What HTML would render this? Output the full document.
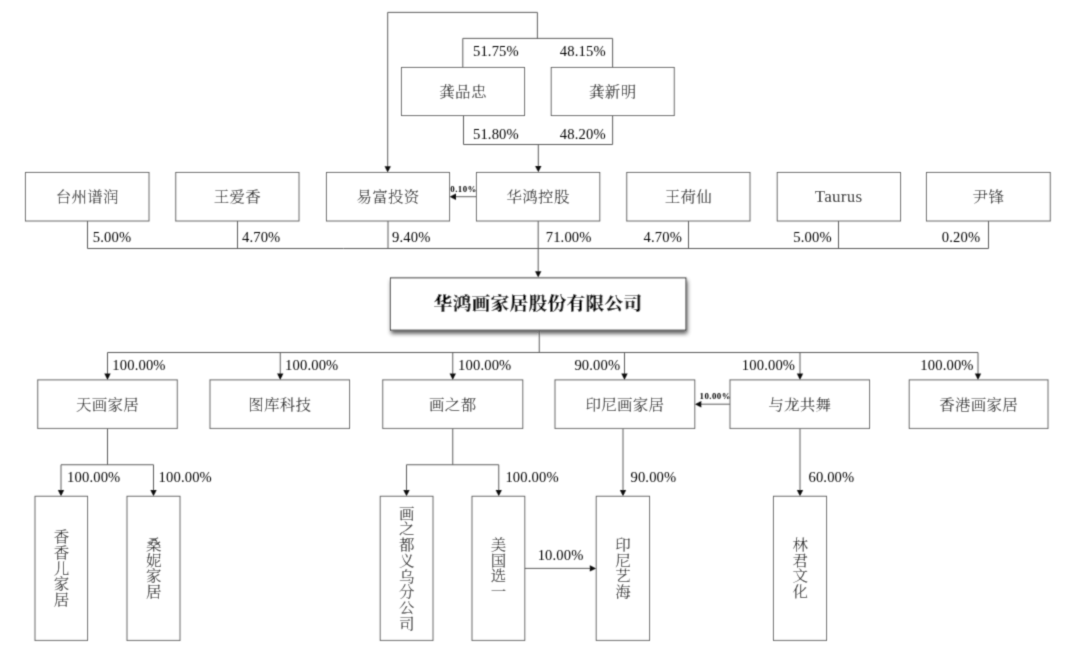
<!DOCTYPE html>
<html lang="zh-CN">
<head>
<meta charset="utf-8">
<title>股权结构图</title>
<style>
html,body{margin:0;padding:0;background:#fff;}
body{width:1076px;height:658px;overflow:hidden;}
svg{display:block;filter:grayscale(1);}
line,polyline,rect{fill:none;stroke:#5c5c5c;stroke-width:1;}
rect.bx{fill:#fff;}
rect.main{fill:#fff;stroke:#333;stroke-width:1;}
.ah{fill:#111;stroke:none;}
text{fill:#000;stroke:none;}
.cn{font-family:"Liberation Serif","Noto Serif CJK SC",serif;font-size:15.5px;font-weight:400;letter-spacing:0.3px;}
.vt{font-family:"Liberation Serif","Noto Serif CJK SC",serif;font-size:15.5px;writing-mode:vertical-rl;letter-spacing:1.6px;}
.lat{font-family:"Liberation Serif","Noto Serif CJK SC",serif;font-size:17px;letter-spacing:0.25px;}
.pc{font-family:"Liberation Serif","Noto Serif CJK SC",serif;font-size:14.6px;letter-spacing:0.15px;}
.sm{font-family:"Liberation Serif","Noto Serif CJK SC",serif;font-size:8.9px;font-weight:700;letter-spacing:0.42px;}
.ttl{font-family:"Liberation Serif","Noto Serif CJK SC",serif;font-size:18.8px;font-weight:900;letter-spacing:0.2px;fill:#000;}
</style>
</head>
<body>
<svg width="1076" height="658" viewBox="0 0 1076 658">
<defs>
<filter id="sh" x="-5%" y="-20%" width="110%" height="140%">
<feGaussianBlur in="SourceAlpha" stdDeviation="2.1"/>
<feOffset dx="0.6" dy="2.6" result="o"/>
<feComponentTransfer><feFuncA type="linear" slope="0.65"/></feComponentTransfer>
<feMerge><feMergeNode/><feMergeNode in="SourceGraphic"/></feMerge>
</filter>
<filter id="soft" x="0" y="0" width="100%" height="100%" filterUnits="userSpaceOnUse"><feConvolveMatrix order="3" kernelMatrix="0.0277 0.1110 0.0277 0.1110 0.4452 0.1110 0.0277 0.1110 0.0277" edgeMode="duplicate" preserveAlpha="false"/></filter>
</defs>
<rect x="0" y="0" width="1076" height="658" style="fill:#fff;stroke:none"/>
<g filter="url(#soft)">
<polyline points="537.4,38.4 537.4,12.4 387.7,12.4 387.7,167"/>
<polygon class="ah" points="387.7,172.5 384.55,166.2 390.85,166.2"/>
<polyline points="462.8,67.5 462.8,38.4 612.6,38.4 612.6,67.5"/>
<polyline points="463.5,115.5 463.5,144.5 612.6,144.5 612.6,115.5"/>
<rect class="bx" x="401.5" y="67.5" width="123.0" height="48.0"/>
<rect class="bx" x="551.25" y="67.5" width="123.0" height="48.0"/>
<text class="cn" transform="translate(463,97) scale(1,0.92)" text-anchor="middle">龚品忠</text>
<text class="cn" transform="translate(612.75,97) scale(1,0.92)" text-anchor="middle">龚新明</text>
<text class="pc" x="495.9" y="56.0" text-anchor="middle">51.75%</text>
<text class="pc" x="582.8" y="56.0" text-anchor="middle">48.15%</text>
<text class="pc" x="495.9" y="138.5" text-anchor="middle">51.80%</text>
<text class="pc" x="582.8" y="138.5" text-anchor="middle">48.20%</text>
<line x1="538.3" y1="144.5" x2="538.3" y2="167"/>
<polygon class="ah" points="538.3,172.3 535.15,166.0 541.45,166.0"/>
<rect class="bx" x="25.5" y="172.5" width="123.5" height="48.5"/>
<text class="cn" transform="translate(87.25,202) scale(1,0.92)" text-anchor="middle">台州谱润</text>
<rect class="bx" x="175.75" y="172.5" width="123.25" height="48.5"/>
<text class="cn" transform="translate(237.375,202) scale(1,0.92)" text-anchor="middle">王爱香</text>
<rect class="bx" x="326.5" y="172.5" width="123.0" height="48.5"/>
<text class="cn" transform="translate(388.0,202) scale(1,0.92)" text-anchor="middle">易富投资</text>
<rect class="bx" x="476.5" y="172.5" width="123.25" height="48.5"/>
<text class="cn" transform="translate(538.125,202) scale(1,0.92)" text-anchor="middle">华鸿控股</text>
<rect class="bx" x="626.75" y="172.5" width="123.25" height="48.5"/>
<text class="cn" transform="translate(688.375,202) scale(1,0.92)" text-anchor="middle">王荷仙</text>
<rect class="bx" x="777.25" y="172.5" width="123.25" height="48.5"/>
<text class="lat" transform="translate(838.575,201.8) scale(1,1)" text-anchor="middle">Taurus</text>
<rect class="bx" x="926.5" y="172.5" width="123.75" height="48.5"/>
<text class="cn" transform="translate(988.375,202) scale(1,0.92)" text-anchor="middle">尹锋</text>
<line x1="87.5" y1="221" x2="87.5" y2="248.5"/>
<line x1="237.5" y1="221" x2="237.5" y2="248.5"/>
<line x1="388" y1="221" x2="388" y2="248.5"/>
<line x1="688.5" y1="221" x2="688.5" y2="248.5"/>
<line x1="838.5" y1="221" x2="838.5" y2="248.5"/>
<line x1="988.5" y1="221" x2="988.5" y2="248.5"/>
<line x1="87.5" y1="248.5" x2="988.5" y2="248.5"/>
<line x1="538.2" y1="221" x2="538.2" y2="272"/>
<polygon class="ah" points="538.2,277.5 535.05,271.2 541.35,271.2"/>
<text class="pc" x="112.0" y="241.7" text-anchor="middle">5.00%</text>
<text class="pc" x="261.2" y="241.7" text-anchor="middle">4.70%</text>
<text class="pc" x="411.25" y="241.7" text-anchor="middle">9.40%</text>
<text class="pc" x="568.65" y="241.7" text-anchor="middle">71.00%</text>
<text class="pc" x="662.75" y="241.7" text-anchor="middle">4.70%</text>
<text class="pc" x="812.5" y="241.7" text-anchor="middle">5.00%</text>
<text class="pc" x="961.0" y="241.7" text-anchor="middle">0.20%</text>
<line x1="476.5" y1="196.7" x2="455" y2="196.7"/>
<polygon class="ah" points="449.6,196.7 456.0,193.5 456.0,199.9"/>
<text class="sm" x="450.3" y="191.9" text-anchor="start">0.10%</text>
<rect class="main" x="390.5" y="277.9" width="295.4" height="52.2" filter="url(#sh)"/>
<text class="ttl" transform="translate(538,310.2) scale(1,0.94)" text-anchor="middle">华鸿画家居股份有限公司</text>
<line x1="539.25" y1="330.5" x2="539.25" y2="352.5"/>
<line x1="107.5" y1="352.5" x2="978" y2="352.5"/>
<rect class="bx" x="37.75" y="379.9" width="139.5" height="48.5"/>
<text class="cn" transform="translate(107.5,409.5) scale(1,0.92)" text-anchor="middle">天画家居</text>
<line x1="107.5" y1="352.5" x2="107.5" y2="374"/>
<polygon class="ah" points="107.5,379.9 104.35,373.6 110.65,373.6"/>
<rect class="bx" x="210" y="379.9" width="139.5" height="48.5"/>
<text class="cn" transform="translate(279.75,409.5) scale(1,0.92)" text-anchor="middle">图库科技</text>
<line x1="280.25" y1="352.5" x2="280.25" y2="374"/>
<polygon class="ah" points="280.25,379.9 277.1,373.6 283.4,373.6"/>
<rect class="bx" x="382.75" y="379.9" width="140.0" height="48.5"/>
<text class="cn" transform="translate(452.75,409.5) scale(1,0.92)" text-anchor="middle">画之都</text>
<line x1="452.75" y1="352.5" x2="452.75" y2="374"/>
<polygon class="ah" points="452.75,379.9 449.6,373.6 455.9,373.6"/>
<rect class="bx" x="555" y="379.9" width="139.75" height="48.5"/>
<text class="cn" transform="translate(624.875,409.5) scale(1,0.92)" text-anchor="middle">印尼画家居</text>
<line x1="624.5" y1="352.5" x2="624.5" y2="374"/>
<polygon class="ah" points="624.5,379.9 621.35,373.6 627.65,373.6"/>
<rect class="bx" x="730" y="379.9" width="139.5" height="48.5"/>
<text class="cn" transform="translate(799.75,409.5) scale(1,0.92)" text-anchor="middle">与龙共舞</text>
<line x1="800" y1="352.5" x2="800" y2="374"/>
<polygon class="ah" points="800,379.9 796.85,373.6 803.15,373.6"/>
<rect class="bx" x="909.25" y="379.9" width="138.75" height="48.5"/>
<text class="cn" transform="translate(978.625,409.5) scale(1,0.92)" text-anchor="middle">香港画家居</text>
<line x1="978" y1="352.5" x2="978" y2="374"/>
<polygon class="ah" points="978,379.9 974.85,373.6 981.15,373.6"/>
<text class="pc" x="139.0" y="370.2" text-anchor="middle">100.00%</text>
<text class="pc" x="311.75" y="370.2" text-anchor="middle">100.00%</text>
<text class="pc" x="484.75" y="370.2" text-anchor="middle">100.00%</text>
<text class="pc" x="597.35" y="370.2" text-anchor="middle">90.00%</text>
<text class="pc" x="768.5" y="370.2" text-anchor="middle">100.00%</text>
<text class="pc" x="947.0" y="370.2" text-anchor="middle">100.00%</text>
<line x1="730" y1="404.2" x2="700" y2="404.2"/>
<polygon class="ah" points="694.9,404.2 701.3,401.0 701.3,407.4"/>
<text class="sm" x="699.6" y="399.0" text-anchor="start">10.00%</text>
<line x1="107.5" y1="428.4" x2="107.5" y2="464.75"/>
<polyline points="61,490 61,464.75 153.5,464.75 153.5,490"/>
<polygon class="ah" points="61,496.3 57.85,490.0 64.15,490.0"/>
<polygon class="ah" points="153.5,496.3 150.35,490.0 156.65,490.0"/>
<line x1="452.75" y1="428.4" x2="452.75" y2="464.75"/>
<polyline points="406.5,490 406.5,464.75 498.75,464.75 498.75,490"/>
<polygon class="ah" points="406.5,496.3 403.35,490.0 409.65,490.0"/>
<polygon class="ah" points="498.75,496.3 495.6,490.0 501.9,490.0"/>
<line x1="623" y1="428.4" x2="623" y2="490"/>
<polygon class="ah" points="623,496.3 619.85,490.0 626.15,490.0"/>
<line x1="800" y1="428.4" x2="800" y2="490"/>
<polygon class="ah" points="800,496.3 796.85,490.0 803.15,490.0"/>
<text class="pc" x="93.75" y="481.9" text-anchor="middle">100.00%</text>
<text class="pc" x="185.25" y="481.9" text-anchor="middle">100.00%</text>
<text class="pc" x="532.05" y="481.9" text-anchor="middle">100.00%</text>
<text class="pc" x="653.4" y="481.9" text-anchor="middle">90.00%</text>
<text class="pc" x="831.4" y="481.9" text-anchor="middle">60.00%</text>
<rect class="bx" x="35" y="496.3" width="52.5" height="144.1"/>
<text class="vt" transform="translate(59.85,568.95) scale(1,0.92)" text-anchor="middle">香香儿家居</text>
<rect class="bx" x="127" y="496.3" width="53" height="144.1"/>
<text class="vt" transform="translate(152.1,568.95) scale(1,0.92)" text-anchor="middle">桑妮家居</text>
<rect class="bx" x="380.25" y="496.3" width="52.75" height="144.1"/>
<text class="vt" transform="translate(405.23,568.95) scale(1,0.92)" text-anchor="middle">画之都义乌分公司</text>
<rect class="bx" x="472" y="496.3" width="52.75" height="144.1"/>
<text class="vt" transform="translate(496.98,568.95) scale(1,0.92)" text-anchor="middle">美国选一</text>
<rect class="bx" x="596.25" y="496.3" width="53.25" height="144.1"/>
<text class="vt" transform="translate(621.48,568.95) scale(1,0.92)" text-anchor="middle">印尼艺海</text>
<rect class="bx" x="773.5" y="496.3" width="53.0" height="144.1"/>
<text class="vt" transform="translate(798.6,568.95) scale(1,0.92)" text-anchor="middle">林君文化</text>
<line x1="524.75" y1="568.4" x2="590" y2="568.4"/>
<polygon class="ah" points="596.2,568.4 589.8,565.2 589.8,571.6"/>
<text class="pc" x="560.6" y="559.9" text-anchor="middle">10.00%</text>
</g>
</svg>
</body>
</html>
